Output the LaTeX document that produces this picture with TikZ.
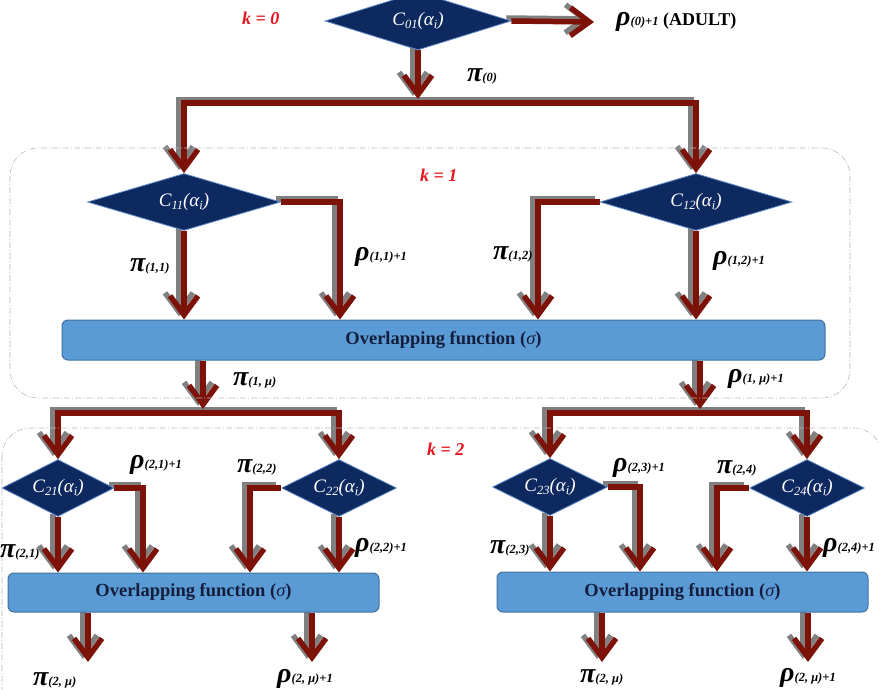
\documentclass[tikz,border=0pt]{standalone}
\usepackage{fontspec}
\setmainfont{Liberation Serif}
\usetikzlibrary{arrows.meta,shapes.geometric}
\definecolor{arrred}{RGB}{125,18,8}
\definecolor{shadowgray}{RGB}{128,128,128}
\definecolor{dianavy}{RGB}{14,40,96}
\definecolor{diaborder}{RGB}{100,140,200}
\definecolor{boxfill}{RGB}{91,155,213}
\definecolor{boxborder}{RGB}{65,113,156}
\definecolor{boxtext}{RGB}{20,30,60}
\definecolor{kred}{RGB}{230,20,30}
\pgfdeclarelayer{bg}
\pgfsetlayers{bg,main}
\newcommand\dtext[1]{\fontsize{19}{19}\selectfont\itshape C\raisebox{-3pt}{\fontsize{12.5}{12.5}\selectfont #1}(α\raisebox{-3pt}{\fontsize{12.5}{12.5}\selectfont i})}
\newcommand\plab[2]{{\fontsize{28}{28}\selectfont\bfseries\itshape #1}{\fontsize{12.5}{12.5}\selectfont\bfseries\itshape #2}}
\newcommand\ovtext{\fontsize{18.5}{18.5}\selectfont\bfseries Overlapping function ({\mdseries\itshape σ})}
\newcommand\klab[1]{\fontsize{18}{18}\selectfont\bfseries\itshape k = #1}
\newcommand\connectors{%
  % level 0
  \draw[cline,arr] (c01.east) -- (adult);
  \draw[cline,arr,shorten >=4pt] (c01.south) -- (t0);
  \draw[cline,arr] (t0) -| (c11.north);
  \draw[cline,arr] (t0) -| (c12.north);
  % level 1
  \draw[cline,arr] (c11.south) -- (c11.south |- ov1.north);
  \draw[cline,arr] (c11.east) -| (e11 |- ov1.north);
  \draw[cline,arr] (c12.west) -| (e12 |- ov1.north);
  \draw[cline,arr] (c12.south) -- (c12.south |- ov1.north);
  \draw[cline,arr,shorten >=4pt] (t1l |- ov1.south) -- (t1l);
  \draw[cline,arr,shorten >=4pt] (t1r |- ov1.south) -- (t1r);
  \draw[cline,arr] (t1l) -| (c21.north);
  \draw[cline,arr] (t1l) -| (c22.north);
  \draw[cline,arr] (t1r) -| (c23.north);
  \draw[cline,arr] (t1r) -| (c24.north);
  % level 2
  \draw[cline,arr] (c21.south) -- (c21.south |- ov2l.north);
  \draw[cline,arr] (c21.east) -| (e21 |- ov2l.north);
  \draw[cline,arr] (c22.west) -| (e22 |- ov2l.north);
  \draw[cline,arr] (c22.south) -- (c22.south |- ov2l.north);
  \draw[cline,arr] (c23.south) -- (c23.south |- ov2r.north);
  \draw[cline,arr] (c23.east) -| (e23 |- ov2r.north);
  \draw[cline,arr] (c24.west) -| (e24 |- ov2r.north);
  \draw[cline,arr] (c24.south) -- (c24.south |- ov2r.north);
  \draw[cline,arr] (o1 |- ov2l.south) -- (o1);
  \draw[cline,arr] (o2 |- ov2l.south) -- (o2);
  \draw[cline,arr] (o3 |- ov2r.south) -- (o3);
  \draw[cline,arr] (o4 |- ov2r.south) -- (o4);
}
\tikzset{
  dia/.style={diamond, aspect=2, inner sep=0pt, fill=dianavy, draw=diaborder,
    line width=0.8pt, text=white},
  ovbox/.style={rectangle, rounded corners=6pt, fill=boxfill, draw=boxborder,
    line width=1pt, text=boxtext, inner sep=0pt},
  lab/.style={anchor=base west, inner sep=0pt},
  klabel/.style={anchor=base west, inner sep=0pt, text=kred},
  levelbox/.style={draw=gray!55, line width=0.6pt,
    dash pattern=on 6pt off 2pt on 1pt off 2pt, rounded corners=28pt},
  arr/.style={-{Straight Barb[length=19pt,width=28pt]}},
  shadowline/.style={draw=shadowgray, line width=5.5pt,
    transform canvas={xshift=-5pt,yshift=3pt}},
  redline/.style={draw=arrred, line width=5.5pt},
}
\begin{document}
\begin{tikzpicture}[x=1pt,y=-1pt]
\useasboundingbox (0,0) rectangle (879,690);
% level boxes
\draw[levelbox] (10,148) rectangle (850,398);
\draw[levelbox] (2,428) rectangle (882,740);
% diamonds
\node[dia, minimum width=186pt, minimum height=58pt] (c01) at (418,21) {\dtext{01}};
\node[dia, minimum width=193pt, minimum height=57pt] (c11) at (184,202) {\dtext{11}};
\node[dia, minimum width=192pt, minimum height=57pt] (c12) at (696,202) {\dtext{12}};
\node[dia, minimum width=112pt, minimum height=57pt] (c21) at (58,488) {\dtext{21}};
\node[dia, minimum width=115pt, minimum height=57pt] (c22) at (339,488) {\dtext{22}};
\node[dia, minimum width=115pt, minimum height=57pt] (c23) at (550,487) {\dtext{23}};
\node[dia, minimum width=115pt, minimum height=57pt] (c24) at (807,488) {\dtext{24}};
% overlapping boxes
\node[ovbox, minimum width=763pt, minimum height=40pt] (ov1) at (443.5,340) {\ovtext};
\node[ovbox, minimum width=371pt, minimum height=39pt] (ov2l) at (193.5,592.5) {\ovtext};
\node[ovbox, minimum width=371pt, minimum height=40pt] (ov2r) at (682.5,592) {\ovtext};
% helper coordinates
\coordinate (adult) at (594,22);
\coordinate (t0) at (418,103);
\coordinate (e11) at (340,202);
\coordinate (e12) at (538,202);
\coordinate (t1l) at (203,413);
\coordinate (t1r) at (700,413);
\coordinate (e21) at (143,488);
\coordinate (e22) at (250,488);
\coordinate (e23) at (640,487);
\coordinate (e24) at (717,488);
\coordinate (o1) at (88,662);
\coordinate (o2) at (312,662);
\coordinate (o3) at (602,662);
\coordinate (o4) at (808,662);
% connectors
\begin{pgfonlayer}{bg}
\begin{scope}[cline/.style={shadowline}]
\connectors
\end{scope}
\begin{scope}[cline/.style={redline}]
\connectors
\end{scope}
\end{pgfonlayer}
% level labels
\node[klabel] (k0) at (242,25) {\klab{0}};
\node[klabel] (k1) at (420,182) {\klab{1}};
\node[klabel] (k2) at (427,455) {\klab{2}};
% flow labels
\node[lab] (lrho0) at (616,26) {\plab{ρ}{(0)+1}\fontsize{18}{18}\selectfont\bfseries\ (ADULT)};
\node[lab] (lpi0) at (467,82) {\plab{π}{(0)}};
\node[lab] (lpi11) at (130,272) {\plab{π}{(1,1)}};
\node[lab] (lrho11) at (355,260) {\plab{ρ}{(1,1)+1}};
\node[lab] (lpi12) at (493,259) {\plab{π}{(1,2)}};
\node[lab] (lrho12) at (713,264) {\plab{ρ}{(1,2)+1}};
\node[lab] (lpi1m) at (233,385) {\plab{π}{(1, μ)}};
\node[lab] (lrho1m) at (728,382) {\plab{ρ}{(1, μ)+1}};
\node[lab] (lrho21) at (130,468) {\plab{ρ}{(2,1)+1}};
\node[lab] (lpi22) at (237,472) {\plab{π}{(2,2)}};
\node[lab] (lpi21) at (0,557) {\plab{π}{(2,1)}};
\node[lab] (lrho22) at (355,551) {\plab{ρ}{(2,2)+1}};
\node[lab] (lpi23) at (490,553) {\plab{π}{(2,3)}};
\node[lab] (lrho23) at (613,471) {\plab{ρ}{(2,3)+1}};
\node[lab] (lpi24) at (717,473) {\plab{π}{(2,4)}};
\node[lab] (lrho24) at (823,551) {\plab{ρ}{(2,4)+1}};
\node[lab] (lpi2ml) at (33,685) {\plab{π}{(2, μ)}};
\node[lab] (lrho2ml) at (277,682) {\plab{ρ}{(2, μ)+1}};
\node[lab] (lpi2mr) at (580,682) {\plab{π}{(2, μ)}};
\node[lab] (lrho2mr) at (780,681) {\plab{ρ}{(2, μ)+1}};
\end{tikzpicture}
\end{document}
